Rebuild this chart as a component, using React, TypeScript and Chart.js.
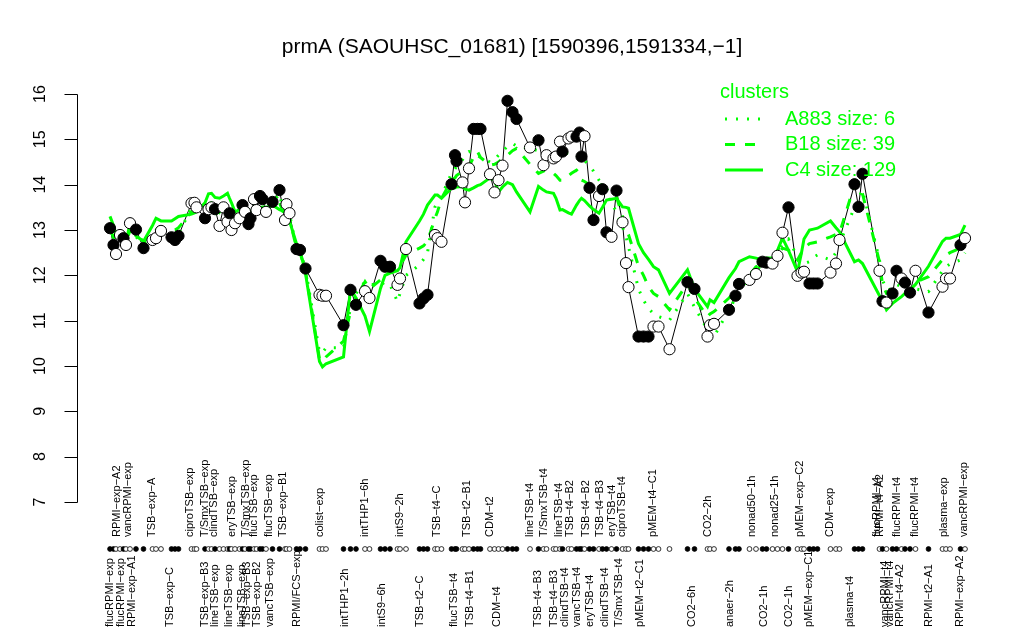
import React, { useEffect, useRef } from "react";
import { Chart, registerables } from "chart.js";

Chart.register(...registerables);

const chartTitle = "prmA (SAOUHSC_01681) [1590396,1591334,\u22121]";

const samplePos = [
  1.0, 1.7, 2.2, 3.0, 3.7, 4.2, 5.0, 6.2, 7.7, 9.5,
  10.2, 11.2, 13.3, 14.0, 14.7, 17.3, 17.9, 18.3, 20.0, 20.7,
  21.3, 22.0, 22.9, 23.7, 24.5, 24.9, 25.3, 26.0, 26.9, 27.5,
  28.0, 28.7, 29.1, 29.8, 30.3, 31.0, 31.5, 32.2, 33.5, 34.9,
  36.0, 36.3, 36.9, 38.3, 39.0, 40.1, 42.9, 43.5, 44.2, 47.7,
  49.1, 50.2, 52.0, 52.9, 55.1, 56.0, 57.0, 58.5, 59.0, 60.2,
  62.9, 63.7, 64.5, 66.0, 66.5, 67.3, 69.3, 70.0, 70.3, 71.5,
  72.0, 72.8, 73.7, 74.5, 75.1, 77.0, 77.9, 78.7, 79.5, 80.5,
  81.5, 82.3, 85.0, 86.7, 87.7, 88.3, 89.7, 90.2, 91.0, 91.5,
  92.7, 93.3, 94.3, 94.9, 95.3, 95.9, 96.9, 97.7, 98.8, 99.5,
  100.3, 101.3, 102.3, 103.5, 104.2, 104.7, 106.7, 107.7, 108.7, 109.7,
  110.7, 112.9, 116.5, 117.9, 120.5, 121.0, 121.8, 124.8, 126.1, 126.8,
  128.9, 130.2, 131.5, 132.3, 133.5, 134.5, 135.5, 136.7, 138.5, 139.3,
  139.8, 140.9, 141.7, 142.5, 145.1, 146.2, 146.9, 149.9, 150.7, 151.5,
  154.9, 155.5, 156.3, 157.5, 158.3, 159.3, 160.0, 161.0, 162.1, 164.7,
  167.5, 168.2, 169.0, 171.1, 172.0,
];

const expression = [
  13.04, 12.67, 12.47, 12.89, 12.82, 12.67, 13.15, 13.01, 12.6, 12.78,
  12.82, 12.98, 12.84, 12.78, 12.87, 13.59, 13.6, 13.5, 13.26, 13.46,
  13.5, 13.46, 13.09, 13.5, 13.18, 13.37, 13.0, 13.15, 13.26, 13.55,
  13.4, 13.13, 13.26, 13.68, 13.44, 13.75, 13.68, 13.4, 13.62, 13.88,
  13.22, 13.57, 13.37, 12.58, 12.56, 12.15, 11.57, 11.55, 11.55, 10.9,
  11.68, 11.35, 11.65, 11.5, 12.32, 12.19, 12.19, 11.79, 11.93, 12.58,
  11.38, 11.49, 11.57, 12.89, 12.82, 12.74, 14.01, 14.65, 14.52, 14.05,
  13.61, 14.36, 15.23, 15.23, 15.23, 14.23, 13.83, 14.1, 14.42, 15.85,
  15.6, 15.45, 14.82, 14.98, 14.43, 14.65, 14.58, 14.62, 14.95, 14.73,
  15.02, 15.06, 15.06, 15.15, 14.62, 15.07, 13.93, 13.22, 13.75, 13.9,
  12.95, 12.85, 13.87, 13.17, 12.27, 11.74, 10.65, 10.65, 10.65, 10.87,
  10.87, 10.37, 11.85, 11.7, 10.65, 10.9, 10.93, 11.24, 11.55, 11.81,
  11.9, 12.03, 12.3, 12.28, 12.26, 12.43, 12.94, 13.5, 11.99, 12.06,
  12.08, 11.82, 11.82, 11.82, 12.06, 12.26, 12.78, 14.01, 13.51, 14.24,
  12.1, 11.43, 11.4, 11.6, 12.1, 11.93, 11.84, 11.62, 12.1, 11.18,
  11.75, 11.93, 11.93, 12.67, 12.82,
];

// 1 = filled marker, 0 = open marker
const filledFlag = [
  1, 1, 0, 0, 1, 0, 0, 1, 1, 0,
  0, 0, 1, 1, 1, 0, 0, 0, 1, 0,
  0, 1, 0, 0, 0, 1, 0, 0, 0, 1,
  0, 1, 1, 0, 0, 1, 1, 0, 1, 1,
  0, 0, 0, 1, 1, 1, 0, 0, 0, 1,
  1, 1, 0, 0, 1, 1, 1, 0, 0, 0,
  1, 1, 1, 0, 0, 0, 1, 1, 1, 0,
  0, 0, 1, 1, 1, 0, 0, 0, 0, 1,
  1, 1, 0, 1, 0, 0, 0, 0, 0, 1,
  0, 0, 1, 1, 1, 0, 1, 1, 0, 1,
  1, 0, 1, 0, 0, 0, 1, 1, 1, 0,
  0, 0, 1, 1, 0, 0, 0, 1, 1, 1,
  0, 0, 1, 1, 0, 0, 0, 1, 0, 0,
  0, 1, 1, 1, 0, 0, 0, 1, 1, 1,
  0, 1, 0, 1, 1, 0, 1, 1, 0, 1,
  0, 0, 0, 1, 0,
];

const clusterC4 = [
  13.3, 13.1, 12.9, 12.95, 12.75, 12.7, 13.16, 12.87, 12.75, 13.1,
  13.26, 13.2, 13.2, 13.25, 13.3, 13.35, 13.38, 13.4, 13.6, 13.8,
  13.81, 13.72, 13.7, 13.75, 13.81, 13.7, 13.6, 13.4, 13.45, 13.5,
  13.5, 13.45, 13.4, 13.4, 13.45, 13.5, 13.5, 13.5, 13.55, 13.45,
  13.4, 13.35, 13.2, 12.7, 12.56, 12.04, 10.1, 9.98, 10.05, 10.2,
  11.71, 11.5, 11.1, 10.76, 11.71, 12.0, 12.05, 12.1, 12.17, 12.74,
  13.2, 13.35, 13.55, 13.77, 13.77, 13.7, 13.92, 13.93, 13.95, 13.96,
  13.9, 13.88, 13.93, 13.98, 14.0, 14.15, 14.1, 13.84, 13.95, 14.05,
  14.0, 13.84, 13.4, 13.96, 13.88, 13.84, 13.81, 13.7, 13.44, 13.45,
  13.38, 13.35, 13.55, 13.65, 13.7, 13.65, 13.53, 13.45, 13.37, 13.5,
  13.66, 13.68, 13.7, 13.51, 13.5, 13.48, 12.7, 12.5, 12.35, 12.19,
  12.12, 11.6, 12.12, 11.7, 11.31, 11.46, 11.4, 11.95, 12.15, 12.3,
  12.41, 12.38, 12.34, 12.38, 12.38, 12.55, 12.82, 12.55, 12.08, 12.5,
  12.8, 13.0, 13.02, 13.04, 13.2, 13.05, 12.96, 12.3, 12.34, 12.26,
  11.55, 11.45, 11.24, 11.38, 11.45, 11.53, 11.6, 11.68, 11.8, 12.2,
  12.75, 12.82, 12.82, 12.9, 13.11,
];

const clusterB18 = [
  13.0, 12.85, 12.75, 12.9, 12.8, 12.7, 13.0, 12.9, 12.75, 12.9,
  13.0, 13.05, 13.0, 13.0, 13.05, 13.4, 13.4, 13.4, 13.4, 13.55,
  13.6, 13.55, 13.4, 13.55, 13.5, 13.5, 13.3, 13.25, 13.3, 13.45,
  13.4, 13.3, 13.3, 13.5, 13.4, 13.55, 13.55, 13.45, 13.55, 13.6,
  13.3, 13.4, 13.25, 12.6, 12.5, 12.1, 10.15, 10.1, 10.2, 10.55,
  11.2, 11.5, 11.86, 11.7, 11.9, 12.0, 12.1, 12.15, 12.2, 12.45,
  12.6, 12.65, 12.75, 13.26, 13.4, 13.7, 14.1, 14.15, 14.2, 14.3,
  14.35, 14.4, 14.6, 14.73, 14.6, 14.43, 14.45, 14.5, 14.58, 14.65,
  14.75, 14.8, 14.45, 14.25, 14.3, 14.32, 14.25, 14.2, 14.1, 14.1,
  14.2, 14.25, 14.32, 14.25, 14.1, 14.07, 14.0, 14.0, 14.0, 13.99,
  13.9, 13.8, 13.73, 13.3, 13.0, 12.9, 12.2, 12.0, 11.75, 11.6,
  11.53, 11.24, 11.82, 11.5, 11.09, 11.15, 11.2, 11.5, 11.65, 11.75,
  12.0, 12.19, 12.25, 12.34, 12.35, 12.45, 12.6, 12.56, 12.34, 12.5,
  12.6, 12.7, 12.72, 12.74, 12.85, 12.9, 12.93, 14.0, 14.03, 13.8,
  12.3, 11.8, 11.6, 11.65, 11.75, 11.78, 11.8, 11.82, 11.85, 11.97,
  12.35, 12.45, 12.5, 12.6, 12.75,
];

const clusterA883 = [
  13.1, 12.8, 12.6, 12.85, 12.8, 12.6, 13.0, 12.85, 12.7, 12.8,
  12.85, 12.95, 12.85, 12.8, 12.9, 13.5, 13.55, 13.45, 13.3, 13.45,
  13.5, 13.45, 13.15, 13.5, 13.25, 13.35, 13.05, 13.15, 13.25, 13.5,
  13.4, 13.15, 13.25, 13.6, 13.4, 13.7, 13.65, 13.4, 13.6, 13.8,
  13.25, 13.5, 13.35, 12.6, 12.55, 12.15, 10.3, 10.3, 10.4, 10.4,
  11.3, 11.6, 11.86, 11.8, 11.79, 11.85, 11.79, 11.42, 11.6, 12.0,
  12.23, 12.35, 12.5, 13.51, 13.6, 13.75, 14.25, 14.35, 14.4, 14.55,
  14.65, 14.73, 14.7, 14.65, 14.6, 14.5, 14.55, 14.65, 14.73, 14.85,
  14.91, 14.85, 14.8, 14.75, 14.7, 14.7, 14.65, 14.65, 14.7, 14.7,
  14.69, 14.7, 14.65, 14.6, 14.55, 14.54, 14.4, 14.3, 14.1, 14.0,
  13.8, 13.59, 13.4, 13.07, 12.85, 12.63, 11.7, 11.45, 11.27, 11.15,
  11.09, 11.01, 11.6, 11.3, 10.8, 10.7, 10.65, 11.24, 11.5, 11.65,
  11.97, 12.1, 12.25, 12.34, 12.35, 12.45, 12.7, 12.8, 12.4, 12.3,
  12.26, 12.3, 12.4, 12.45, 12.34, 12.5, 12.7, 13.5, 13.7, 13.88,
  12.34, 11.9, 11.68, 11.7, 11.8, 11.75, 11.7, 11.65, 11.7, 11.64,
  12.1, 12.19, 12.25, 12.34, 12.5,
];

const topLabels = [
  "RPMI\u2212exp\u2212A2", "vancRPMI\u2212exp", "TSB\u2212exp\u2212A", "ciproTSB\u2212exp",
  "T/SmxTSB\u2212exp", "clindTSB\u2212exp", "eryTSB\u2212exp", "T/SmxTSB\u2212exp",
  "flucTSB\u2212exp", "flucTSB\u2212exp", "TSB\u2212exp\u2212B1", "colist\u2212exp",
  "intTHP1\u22126h", "intS9\u22122h", "TSB\u2212t4\u2212C", "TSB\u2212t2\u2212B1", "CDM\u2212t2",
  "lineTSB\u2212t4", "T/SmxTSB\u2212t4", "lineTSB\u2212t4", "TSB\u2212t4\u2212B2", "TSB\u2212t4\u2212B2",
  "TSB\u2212t4\u2212B3", "eryTSB\u2212t4", "ciproTSB\u2212t4", "pMEM\u2212t4\u2212C1", "CO2\u22122h",
  "nonad50\u22121h", "nonad25\u22121h", "pMEM\u2212exp\u2212C2", "CDM\u2212exp", "flucRPMI\u2212t4",
  "RPMI\u2212t4\u2212A2", "flucRPMI\u2212t4", "flucRPMI\u2212t4", "plasma\u2212exp", "vancRPMI\u2212exp",
];
const topLabelPos = [
  2.3, 4.5, 9.3, 16.9, 20.0, 21.7, 25.3, 28.1, 29.8, 32.7, 35.5, 43.0,
  52.0, 59.0, 66.3, 72.3, 77.0, 85.0, 87.7, 90.7, 93.0, 96.2, 99.0, 101.3,
  103.3, 109.5, 120.5, 129.3, 134.0, 138.9, 145.0, 154.3, 155.0, 158.3, 162.0,
  167.7, 171.8,
];

const bottomLabels = [
  "flucRPMI\u2212exp", "flucRPMI\u2212exp", "RPMI\u2212exp\u2212A1", "TSB\u2212exp\u2212C",
  "TSB\u2212exp\u2212B3", "lineTSB\u2212exp", "lineTSB\u2212exp", "lineTSB\u2212exp",
  "TSB\u2212exp\u2212B3", "TSB\u2212exp\u2212B2", "vancTSB\u2212exp", "RPMI/FCS\u2212exp",
  "intTHP1\u22122h", "intS9\u22126h", "TSB\u2212t2\u2212C", "flucTSB\u2212t4", "TSB\u2212t4\u2212B1",
  "CDM\u2212t4", "TSB\u2212t4\u2212B3", "TSB\u2212t4\u2212B3", "clindTSB\u2212t4", "vancTSB\u2212t4",
  "eryTSB\u2212t4", "clindTSB\u2212t4", "T/SmxTSB\u2212t4", "pMEM\u2212t2\u2212C1", "CO2\u22126h",
  "anaer\u22122h", "CO2\u22121h", "CO2\u22121h", "pMEM\u2212exp\u2212C1", "plasma\u2212t4",
  "vancRPMI\u2212t4", "vancRPMI\u2212t4", "RPMI\u2212t4\u2212A2", "RPMI\u2212t2\u2212A1", "RPMI\u2212exp\u2212A2",
];
const bottomLabelPos = [
  1.0, 3.1, 5.3, 13.0, 20.0, 22.0, 24.7, 27.3, 28.3, 30.3, 33.0, 38.3,
  48.0, 55.3, 63.0, 69.7, 73.0, 78.3, 86.6, 89.7, 91.9, 94.3, 96.9, 100.0,
  102.7, 107.0, 117.3, 125.0, 131.7, 136.7, 140.7, 149.0, 156.0, 157.0, 159.0,
  164.7, 171.0,
];

const yTicks = [7, 8, 9, 10, 11, 12, 13, 14, 15, 16];

const legendTitle = "clusters";
const legendNames = ["A883 size: 6", "B18 size: 39", "C4 size: 129"];
const legendDash = [[2, 9], [10, 10], []];

const GREEN = "#00ff00";
const FONT = "'Liberation Sans', Arial, Helvetica, sans-serif";

const decorPlugin = {
  id: "rDecor",
  afterDraw(chart: any) {
    const { ctx, chartArea, scales } = chart;
    const xs = scales.x;
    const ys = scales.y;
    ctx.save();

    // Y axis
    ctx.strokeStyle = "#000";
    ctx.lineWidth = 1;
    const ax = Math.round(chartArea.left) + 0.5;
    const yTop = Math.round(ys.getPixelForValue(yTicks[yTicks.length - 1])) + 0.5;
    const yBot = Math.round(ys.getPixelForValue(yTicks[0])) + 0.5;
    ctx.beginPath();
    ctx.moveTo(ax, yTop);
    ctx.lineTo(ax, yBot);
    yTicks.forEach((t) => {
      const py = Math.round(ys.getPixelForValue(t)) + 0.5;
      ctx.moveTo(ax - 13, py);
      ctx.lineTo(ax, py);
    });
    ctx.stroke();

    ctx.fillStyle = "#000";
    ctx.font = `16px ${FONT}`;
    ctx.textAlign = "center";
    ctx.textBaseline = "middle";
    yTicks.forEach((t) => {
      const py = ys.getPixelForValue(t);
      ctx.save();
      ctx.translate(ax - 37, py);
      ctx.rotate(-Math.PI / 2);
      ctx.fillText(String(t), 0, 0);
      ctx.restore();
    });

    // Rug
    const rugY = 549;
    samplePos.forEach((p, i) => {
      const px = xs.getPixelForValue(p);
      ctx.beginPath();
      ctx.arc(px, rugY, 2.4, 0, Math.PI * 2);
      ctx.fillStyle = filledFlag[i] ? "#000" : "#fff";
      ctx.fill();
      ctx.lineWidth = 0.8;
      ctx.strokeStyle = "#000";
      ctx.stroke();
    });

    // Sample labels
    ctx.fillStyle = "#000";
    ctx.font = `11px ${FONT}`;
    ctx.textAlign = "left";
    ctx.textBaseline = "middle";
    topLabels.forEach((lab, i) => {
      const px = xs.getPixelForValue(topLabelPos[i]);
      ctx.save();
      ctx.translate(px, 537);
      ctx.rotate(-Math.PI / 2);
      ctx.fillText(lab, 0, 0);
      ctx.restore();
    });
    bottomLabels.forEach((lab, i) => {
      const px = xs.getPixelForValue(bottomLabelPos[i]);
      ctx.save();
      ctx.translate(px, 627);
      ctx.rotate(-Math.PI / 2);
      ctx.fillText(lab, 0, 0);
      ctx.restore();
    });

    // Title
    ctx.font = `21px ${FONT}`;
    ctx.textAlign = "center";
    ctx.textBaseline = "middle";
    ctx.fillText(chartTitle, 512, 47);

    // Legend
    ctx.fillStyle = GREEN;
    ctx.strokeStyle = GREEN;
    ctx.font = `20px ${FONT}`;
    ctx.textAlign = "left";
    ctx.fillText(legendTitle, 720, 92);
    legendNames.forEach((name, i) => {
      const ly = 119 + i * 25.5;
      ctx.save();
      ctx.lineWidth = 3;
      ctx.setLineDash(legendDash[i]);
      ctx.beginPath();
      ctx.moveTo(725, ly);
      ctx.lineTo(763, ly);
      ctx.stroke();
      ctx.restore();
      ctx.fillText(name, 785, ly);
    });

    ctx.restore();
  },
};

export default function App() {
  const canvasRef = useRef<HTMLCanvasElement | null>(null);

  useEffect(() => {
    const canvas = canvasRef.current;
    if (!canvas) return;
    const pts = (vals: number[]) => samplePos.map((x, i) => ({ x, y: vals[i] }));

    const chart = new Chart(canvas, {
      type: "line",
      data: {
        datasets: [
          {
            label: "markers",
            data: pts(expression),
            showLine: false,
            pointRadius: 5.6,
            pointBorderWidth: 1,
            pointBorderColor: "#000",
            pointBackgroundColor: filledFlag.map((f) => (f ? "#000" : "#fff")),
            order: 0,
          },
          {
            label: "A883 size: 6",
            data: pts(clusterA883),
            borderColor: GREEN,
            borderWidth: 3,
            borderDash: legendDash[0],
            pointRadius: 0,
            tension: 0,
            order: 2,
          },
          {
            label: "B18 size: 39",
            data: pts(clusterB18),
            borderColor: GREEN,
            borderWidth: 3,
            borderDash: legendDash[1],
            pointRadius: 0,
            tension: 0,
            order: 3,
          },
          {
            label: "C4 size: 129",
            data: pts(clusterC4),
            borderColor: GREEN,
            borderWidth: 3,
            pointRadius: 0,
            tension: 0,
            order: 4,
          },
          {
            label: "prmA",
            data: pts(expression),
            borderColor: "#000",
            borderWidth: 1,
            pointRadius: 0,
            tension: 0,
            order: 5,
          },
        ],
      },
      options: {
        responsive: false,
        animation: false,
        devicePixelRatio: 1,
        events: [],
        layout: { padding: { left: 76.5, right: 24.5, top: 77.7, bottom: 121.7 } },
        plugins: { legend: { display: false }, tooltip: { enabled: false }, title: { display: false } },
        scales: {
          x: { type: "linear", min: -5.7, max: 178.9, display: false },
          y: { type: "linear", min: 6.64, max: 16.36, display: false },
        },
      },
      plugins: [decorPlugin],
    });
    return () => chart.destroy();
  }, []);

  return (
    <div style={{ position: "absolute", left: 0, top: 0, width: 1024, height: 640, background: "#fff" }}>
      <canvas ref={canvasRef} width={1024} height={640} style={{ display: "block" }} />
    </div>
  );
}
